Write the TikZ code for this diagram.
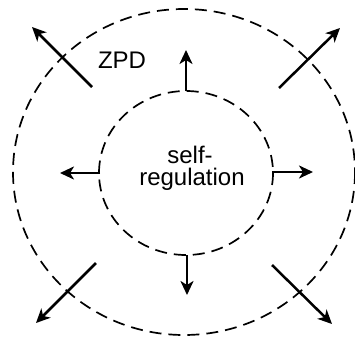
\documentclass[tikz,border=0pt]{standalone}
\usepackage{fontspec}
\setmainfont{Liberation Sans}
\usetikzlibrary{arrows.meta,shapes.geometric}
\begin{document}
\begin{tikzpicture}[x=1pt,y=-1pt,
  ring/.style={draw, line width=1.7pt, dash pattern=on 12pt off 7pt},
  spoke/.style={draw, line width=2.5pt, -{Stealth[length=14pt,width=13pt,inset=4pt]}},
  lbl/.style={font=\fontsize{24}{24}\selectfont, inner sep=0pt, anchor=base}]
\useasboundingbox (0,0) rectangle (355,337);
\draw[ring] (184,172) ellipse [x radius=171, y radius=163];
\draw[ring] (186,173) ellipse [x radius=87, y radius=82];
\node[lbl] (zpd) at (122,68) {ZPD};
\node[lbl] (self) at (190,163) {self-};
\node[lbl] (reg) at (192,185) {regulation};
\coordinate (u0) at (186,91);  \coordinate (u1) at (186,50);
\coordinate (l0) at (100,173); \coordinate (l1) at (60,173);
\coordinate (r0) at (272,172); \coordinate (r1) at (313,172);
\coordinate (d0) at (187,255); \coordinate (d1) at (187,295);
\coordinate (ul0) at (92,87);  \coordinate (ul1) at (32,27);
\coordinate (ur0) at (279,88); \coordinate (ur1) at (340,28);
\coordinate (dl0) at (96,263); \coordinate (dl1) at (36,323);
\coordinate (dr0) at (272,265); \coordinate (dr1) at (332,324);
\draw[spoke] (u0) -- (u1);
\draw[spoke] (l0) -- (l1);
\draw[spoke] (r0) -- (r1);
\draw[spoke] (d0) -- (d1);
\draw[spoke] (ul0) -- (ul1);
\draw[spoke] (ur0) -- (ur1);
\draw[spoke] (dl0) -- (dl1);
\draw[spoke] (dr0) -- (dr1);
\end{tikzpicture}
\end{document}
